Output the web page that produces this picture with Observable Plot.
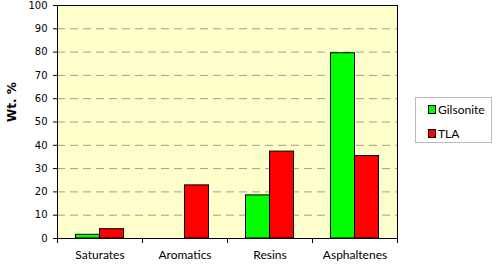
<!DOCTYPE html>
<html>
<head>
<meta charset="utf-8">
<script src="https://cdn.jsdelivr.net/npm/d3@7"></script>
<script src="https://cdn.jsdelivr.net/npm/@observablehq/plot@0.6"></script>
<style>
  html, body { margin: 0; padding: 0; background: #fff; }
  #wrap { position: relative; width: 500px; height: 266px; }
  #legend { position: absolute; left: 415px; top: 97px; width: 77px; height: 46px; border: 1px solid #bdbdbd; box-sizing: border-box; background: #fff; font-family: Lato, sans-serif; font-size: 12px; color: #000; }
  .item { position: absolute; left: 12px; display: flex; align-items: center; }
  .sw { width: 6px; height: 7px; border: 1px solid #000; margin-right: 2px; }
</style>
</head>
<body>
<div id="wrap"></div>
<script>
const categories = ["Saturates", "Aromatics", "Resins", "Asphaltenes"];
const seriesNames = ["Gilsonite", "TLA"];
const gilsonite = [1.6, 0, 18.5, 79.5];
const tla = [4.0, 22.8, 37.3, 35.4];
const seriesColors = ["#00FF00", "#FF0000"];
const yTicks = [0, 10, 20, 30, 40, 50, 60, 70, 80, 90, 100];
const gridTicks = yTicks.filter(v => v > 0 && v < 100);
const yLabel = "Wt. %";

const W = 500, H = 266, ML = 57, MR = 103, MT = 5, MB = 28;
const band = (W - ML - MR) / categories.length;
const barW = 24;
const outer = (band - 2 * barW) / 2;

const rows = [];
categories.forEach((c, i) => {
  rows.push({category: c, series: seriesNames[0], value: gilsonite[i]});
  rows.push({category: c, series: seriesNames[1], value: tla[i]});
});

const colorScale = {domain: seriesNames, range: seriesColors};

const plot = Plot.plot({
  width: W, height: H,
  marginLeft: ML, marginRight: MR, marginTop: MT, marginBottom: MB,
  style: {fontFamily: "DejaVu Sans, sans-serif", fontSize: "10px", color: "#000", background: "#fff"},
  x: {domain: categories, padding: 0, label: null},
  y: {domain: [0, 100], label: null},
  color: colorScale,
  marks: [
    Plot.frame({fill: "#FFFFCC", stroke: null}),
    Plot.ruleY(gridTicks, {stroke: "#9f9f8f", strokeDasharray: "8,5", strokeWidth: 1}),
    Plot.barY(rows.filter(d => d.series === seriesNames[0] && d.value > 0), {
      x: "category", y: "value", fill: "series", stroke: "#000", strokeWidth: 1,
      insetLeft: outer, insetRight: band - outer - barW
    }),
    Plot.barY(rows.filter(d => d.series === seriesNames[1] && d.value > 0), {
      x: "category", y: "value", fill: "series", stroke: "#000", strokeWidth: 1,
      insetLeft: outer + barW, insetRight: outer
    }),
    Plot.frame({stroke: "#000", strokeWidth: 1}),
    Plot.axisY(yTicks, {tickSize: 4, tickPadding: 6, label: null, fontSize: 10, fontFamily: "DejaVu Sans, sans-serif", stroke: "#000"}),
    Plot.axisX({tickSize: 0, tickPadding: 12, label: null, fontSize: 12, fontFamily: "Lato, sans-serif"}),
    Plot.axisX({tickSize: 5, tickFormat: () => "", label: null, dx: -band / 2}),
    Plot.axisX([categories[categories.length - 1]], {tickSize: 5, tickFormat: () => "", label: null, dx: band / 2}),
    Plot.text([yLabel], {frameAnchor: "left", dx: -45, rotate: -90, fontWeight: "bold", fontSize: 12, fontFamily: "DejaVu Sans, sans-serif", text: d => d})
  ]
});

const wrap = document.getElementById("wrap");
wrap.appendChild(plot);

const legend = document.createElement("div");
legend.id = "legend";
seriesNames.forEach((s, i) => {
  const item = document.createElement("div");
  item.className = "item";
  item.style.top = (i === 0 ? 4 : 28) + "px";
  const sw = document.createElement("span");
  sw.className = "sw";
  sw.style.background = seriesColors[i];
  const t = document.createElement("span");
  t.textContent = s;
  item.appendChild(sw);
  item.appendChild(t);
  legend.appendChild(item);
});
wrap.appendChild(legend);
</script>
</body>
</html>
